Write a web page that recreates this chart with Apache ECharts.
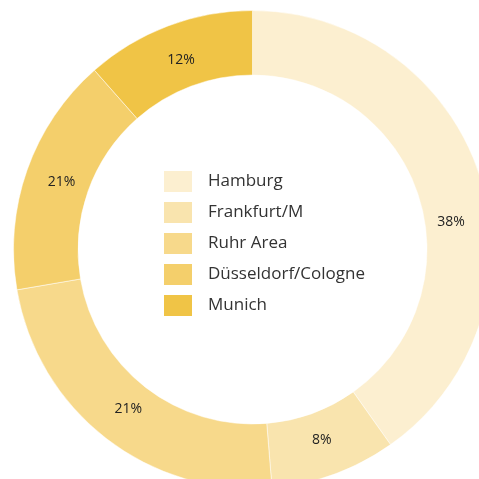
<!DOCTYPE html>
<html>
<head>
<meta charset="utf-8">
<script src="https://cdn.jsdelivr.net/npm/echarts@6/dist/echarts.min.js"></script>
<style>
  html, body { margin: 0; padding: 0; background: #fff; }
  #chart { width: 479px; height: 479px; }
</style>
</head>
<body>
<div id="chart"></div>
<script>
// regions, arc sizes as drawn, and the printed labels
const regions = ['Hamburg', 'Frankfurt/M', 'Ruhr Area', 'Düsseldorf/Cologne', 'Munich'];
const shares = [40.2, 8.5, 23.6, 16.2, 11.5];
const labels = ['38%', '8%', '21%', '21%', '12%'];
const colors = ['#fcefd0', '#f9e4ae', '#f7d98b', '#f4cf6b', '#f0c446'];

const chart = echarts.init(document.getElementById('chart'));

const pieData = regions.map((name, i) => ({ name: name, value: shares[i] }));

const option = {
  animation: false,
  color: colors,
  legend: {
    orient: 'vertical',
    left: 162,
    top: 169,
    padding: 0,
    itemWidth: 30,
    itemHeight: 23,
    itemGap: 6,
    icon: 'rect',
    selectedMode: false,
    textStyle: {
      fontFamily: 'Open Sans',
      fontSize: 17,
      lineHeight: 23,
      color: '#333',
      padding: [0, 0, 0, 10]
    },
    data: regions
  },
  series: [
    {
      type: 'pie',
      center: [252.5, 249.5],
      radius: [174.5, 239],
      startAngle: 90,
      clockwise: true,
      itemStyle: {
        borderColor: '#fff',
        borderWidth: 0.5
      },
      label: { show: false },
      labelLine: { show: false },
      emphasis: { disabled: true },
      data: pieData
    },
    {
      // label-only ring, a bit narrower so the text sits where the source puts it
      type: 'pie',
      silent: true,
      center: [252.5, 249.5],
      radius: [160, 239],
      startAngle: 90,
      clockwise: true,
      itemStyle: { color: 'transparent' },
      label: {
        position: 'inside',
        // Hamburg's label sits lower in the source: push it down with an empty first row
        formatter: (p) => p.dataIndex === 0
          ? '{pad|}\n{t|' + labels[0] + '}'
          : labels[p.dataIndex],
        fontFamily: 'Open Sans',
        fontSize: 14,
        color: '#222',
        rich: {
          pad: { height: 68 },
          t: {
            fontFamily: 'Open Sans',
            fontSize: 14,
            color: '#222',
            padding: [0, 0, 0, 11]
          }
        }
      },
      labelLine: { show: false },
      emphasis: { disabled: true },
      data: pieData
    }
  ]
};

chart.setOption(option);
</script>
</body>
</html>
